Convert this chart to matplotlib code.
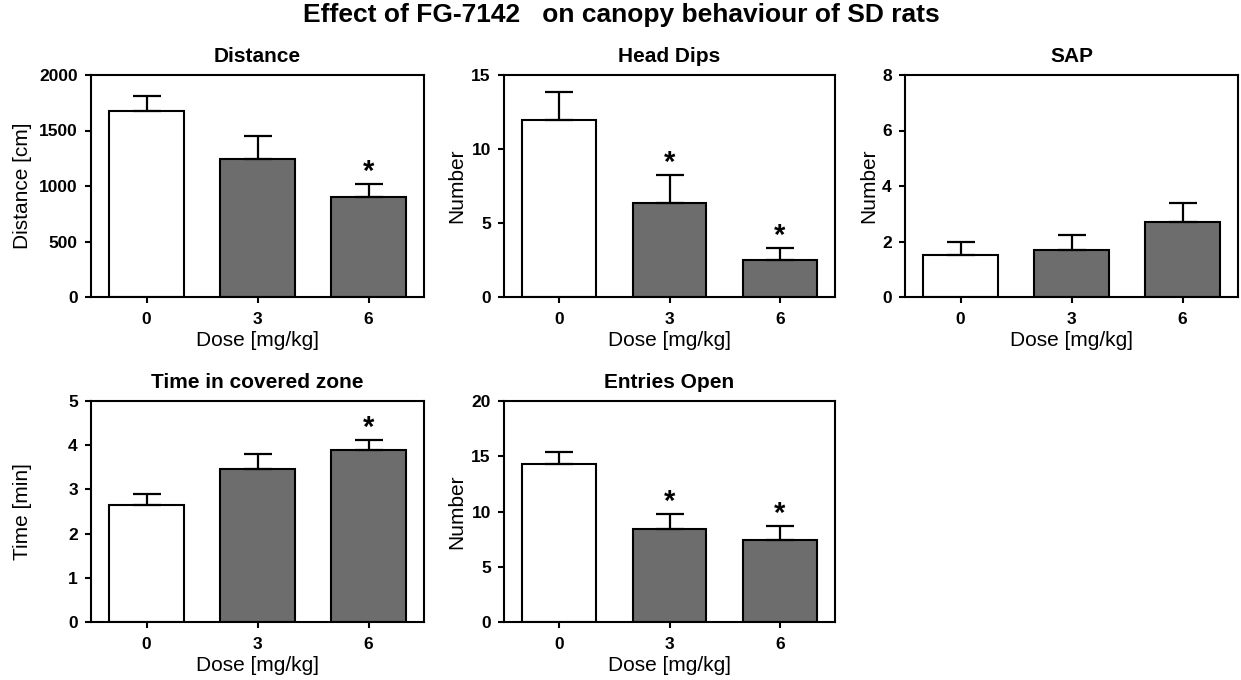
import matplotlib
matplotlib.use("Agg")
import matplotlib.pyplot as plt
import numpy as np

plt.rcParams['font.family'] = ['Liberation Sans', 'DejaVu Sans']

doses = ['0', '3', '6']
bar_colors = ['white', '#6d6d6d', '#6d6d6d']

titles = ['Distance', 'Head Dips', 'SAP', 'Time in covered zone', 'Entries Open']
ylabels = ['Distance [cm]', 'Number', 'Number', 'Time [min]', 'Number']

distance = [1675, 1240, 905]
distance_err = [135, 210, 110]
head_dips = [11.95, 6.35, 2.48]
head_dips_err = [1.9, 1.9, 0.85]
sap = [1.5, 1.68, 2.69]
sap_err = [0.49, 0.55, 0.68]
time_covered = [2.65, 3.46, 3.9]
time_covered_err = [0.25, 0.34, 0.22]
entries_open = [14.27, 8.4, 7.41]
entries_open_err = [1.08, 1.35, 1.26]

means = [distance, head_dips, sap, time_covered, entries_open]
errs = [distance_err, head_dips_err, sap_err, time_covered_err, entries_open_err]
ymax = [2000, 15, 8, 5, 20]
yticks = [[0, 500, 1000, 1500, 2000], [0, 5, 10, 15], [0, 2, 4, 6, 8],
          [0, 1, 2, 3, 4, 5], [0, 5, 10, 15, 20]]
stars = [[0, 0, 1], [0, 1, 1], [0, 0, 0], [0, 0, 1], [0, 1, 1]]

# axes rectangles in pixels: left, top, right, bottom
W, H = 1241, 680
boxes = [(91, 75, 424, 297), (504, 75, 835, 297), (905, 75, 1238, 297),
         (91, 401, 424, 622), (504, 401, 835, 622)]
label_x = [-0.177, -0.115, -0.081, -0.177, -0.115]

fig = plt.figure(figsize=(W / 100, H / 100), dpi=100)
fig.text(621 / W, 1 - 15 / H, 'Effect of FG-7142   on canopy behaviour of SD rats',
         ha='center', va='center', fontsize=19, fontweight='bold')

x = np.arange(3)
for i in range(5):
    l, t, r, b = boxes[i]
    ax = fig.add_axes([l / W, 1 - b / H, (r - l) / W, (b - t) / H])
    ax.bar(x, means[i], width=0.67, color=bar_colors, edgecolor='black',
           linewidth=1.5, zorder=2)
    ax.errorbar(x, means[i], yerr=[np.zeros(3), errs[i]], fmt='none',
                ecolor='black', elinewidth=1.6, capsize=10, capthick=1.6, zorder=3)
    for j in range(3):
        if stars[i][j]:
            ax.annotate('*', (x[j], means[i][j] + errs[i][j]), xytext=(0, 3),
                        textcoords='offset points', ha='center', va='baseline',
                        fontsize=21, fontweight='bold')
    ax.set_xlim(-0.5, 2.5)
    ax.set_ylim(0, ymax[i])
    ax.set_xticks(x)
    ax.set_xticklabels(doses)
    ax.set_yticks(yticks[i])
    for s in ax.spines.values():
        s.set_linewidth(1.5)
    ax.tick_params(direction='out', length=4.5, width=1.5, labelsize=12.5)
    ax.tick_params(axis='x', pad=6.5)
    ax.tick_params(axis='y', pad=5)
    for lab in ax.get_xticklabels() + ax.get_yticklabels():
        lab.set_fontweight('bold')
    ax.set_title(titles[i], fontsize=15, fontweight='bold', pad=9)
    ax.set_xlabel('Dose [mg/kg]', fontsize=15, labelpad=3)
    ax.set_ylabel(ylabels[i], fontsize=15)
    ax.yaxis.set_label_coords(label_x[i], 0.5)

fig.savefig('out.png', dpi=100)
